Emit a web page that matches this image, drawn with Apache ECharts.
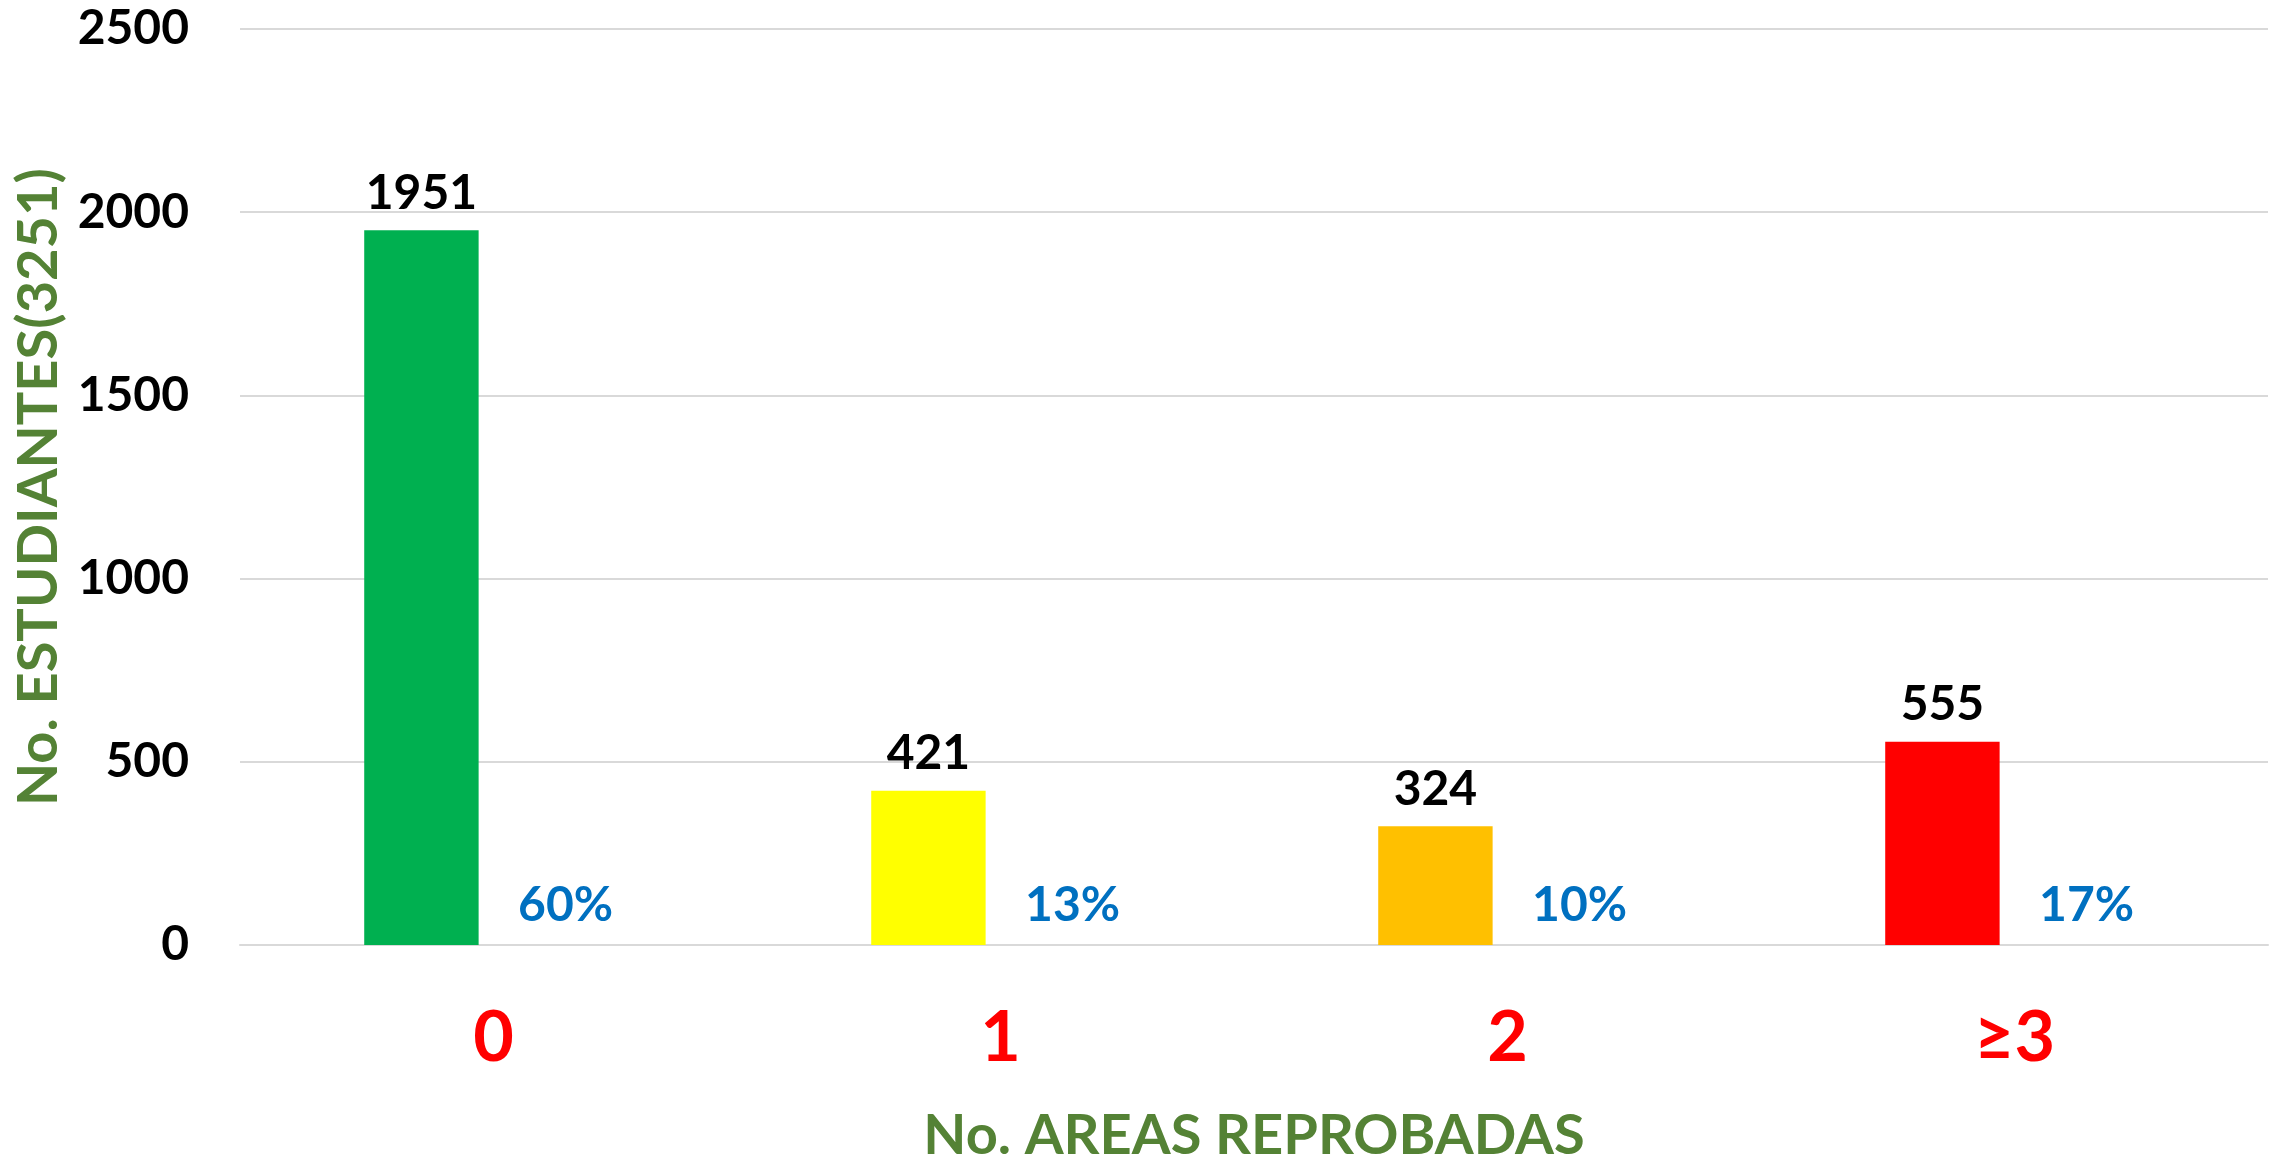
<!DOCTYPE html>
<html>
<head>
<meta charset="utf-8">
<script src="https://cdn.jsdelivr.net/npm/echarts@6/dist/echarts.min.js"></script>
<style>
html,body{margin:0;padding:0;background:#fff;}
#chart{width:2280px;height:1159px;}
</style>
</head>
<body>
<div id="chart"></div>
<script>
var categories = ['0', '1', '2', '≥3'];
var students = [1951, 421, 324, 555];
var percents = [60, 13, 10, 17];
var barColors = ['#00B050', '#FFFF00', '#FFC000', '#FF0000'];
var yTicks = [0, 500, 1000, 1500, 2000, 2500];

var FONT = 'Lato';
var chart = echarts.init(document.getElementById('chart'));
chart.setOption({
  animation: false,
  grid: { left: 240, right: 12, top: 29, bottom: 214, containLabel: false, outerBoundsMode: 'none' },
  xAxis: {
    type: 'category',
    data: categories,
    name: 'No. AREAS REPROBADAS',
    nameLocation: 'middle',
    nameGap: 163,
    nameTextStyle: { color: '#548235', fontFamily: FONT, fontWeight: 'bold', fontSize: 56 },
    axisLine: { lineStyle: { color: '#D9D9D9', width: 2 } },
    axisTick: { show: false },
    axisLabel: { color: '#FF0000', fontFamily: FONT, fontWeight: 'bold', fontSize: 70, margin: 58 }
  },
  yAxis: {
    type: 'value',
    min: yTicks[0],
    max: yTicks[yTicks.length - 1],
    interval: yTicks[1] - yTicks[0],
    name: 'No. ESTUDIANTES(3251)',
    nameLocation: 'middle',
    nameGap: 172,
    nameTextStyle: { color: '#548235', fontFamily: FONT, fontWeight: 'bold', fontSize: 56 },
    axisLine: { show: false },
    axisTick: { show: false },
    splitLine: { lineStyle: { color: '#D9D9D9', width: 2 } },
    axisLabel: {
      color: '#000', fontFamily: FONT, fontWeight: 'bold', fontSize: 48, margin: 51,
      formatter: function (v) { return String(v); }
    }
  },
  series: [
    {
      type: 'bar',
      data: students.map(function (v, i) { return { value: v, itemStyle: { color: barColors[i] } }; }),
      barGap: '26%',
      barCategoryGap: '49%',
      label: {
        show: true, position: 'top', distance: 13,
        color: '#000', fontFamily: FONT, fontWeight: 'bold', fontSize: 48
      }
    },
    {
      type: 'bar',
      data: percents.map(function (p) { return p / 100; }),
      itemStyle: { color: 'rgba(0,0,0,0)' },
      label: {
        show: true, position: 'top', distance: 15,
        formatter: function (p) { return percents[p.dataIndex] + '%'; },
        color: '#0070C0', fontFamily: FONT, fontWeight: 'bold', fontSize: 48
      }
    }
  ]
});
</script>
</body>
</html>
